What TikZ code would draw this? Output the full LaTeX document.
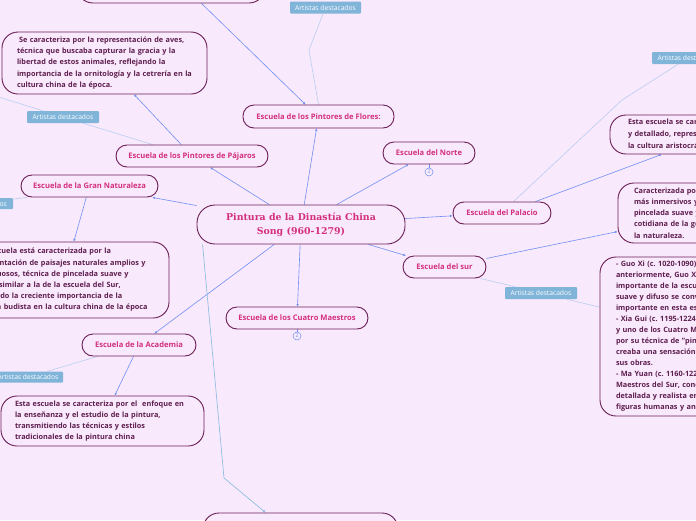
\documentclass[tikz,border=0pt]{standalone}
\usepackage{fontspec}
\setmainfont{Open Sans}
\newfontfamily\titlefont{DejaVu Serif}
\usetikzlibrary{arrows.meta,backgrounds}
\definecolor{bg}{HTML}{F9E9FC}
\definecolor{boxc}{HTML}{6B1E55}
\definecolor{topicc}{HTML}{D32F7E}
\definecolor{descc}{HTML}{5E1E4E}
\definecolor{linkc}{HTML}{6F8FF2}
\definecolor{lightc}{HTML}{B8CDF0}
\definecolor{artc}{HTML}{80B4D9}
\definecolor{bluec}{HTML}{86BADF}
\frenchspacing
\tikzset{
  topic/.style={draw=boxc, line width=0.9pt, rounded corners=11pt, fill=bg, text=topicc,
    font=\fontsize{7.6}{9}\selectfont\bfseries, minimum height=22pt, inner sep=0pt},
  desc/.style={draw=boxc, line width=0.9pt, rounded corners=16pt, fill=bg, text=descc,
    font=\fontsize{7.3}{11.2}\selectfont\bfseries, align=left, inner xsep=15pt, inner ysep=0pt},
  art/.style={fill=artc, text=white, font=\fontsize{6.7}{8}\selectfont, minimum height=12pt,
    inner xsep=3pt, inner ysep=0pt, rounded corners=1pt},
  link/.style={draw=linkc, line width=0.6pt, -{Latex[length=2.5pt,width=2.5pt]}},
  soft/.style={draw=lightc, line width=0.6pt},
  count/.style={circle, draw=linkc, line width=0.5pt, fill=bg, text=linkc, minimum size=8pt,
    inner sep=0pt, font=\fontsize{5}{5}\selectfont},
}
\begin{document}
\begin{tikzpicture}[x=1pt,y=-1pt]
\useasboundingbox (0,0) rectangle (696,520);

% central topic
\node[draw=boxc, line width=0.9pt, rounded corners=18pt, fill=bg, text=topicc,
  font=\titlefont\fontsize{9.4}{14}\selectfont\bfseries, align=center,
  minimum width=208pt, minimum height=39pt, inner sep=0pt] (title) at (301,224.5)
  {Pintura de la Dinastía China\\Song (960-1279)};

% main topics
\node[topic, minimum width=188pt, minimum height=36pt, rounded corners=16pt] (topn) at (171,-15) {};
\node[topic, minimum width=151pt, minimum height=23pt] (flores) at (318.5,116.5) {Escuela de los Pintores de Flores:};
\node[topic, minimum width=152pt] (pajaros) at (192,156) {Escuela de los Pintores de Pájaros};
\node[topic, minimum width=137pt] (natur) at (89.5,186) {Escuela de la Gran Naturaleza};
\node[topic, minimum width=92pt] (norte) at (429,153) {Escuela del Norte};
\node[topic, minimum width=98pt] (palacio) at (502,213) {Escuela del Palacio};
\node[topic, minimum width=83pt] (sur) at (444.5,267) {Escuela del sur};
\node[topic, minimum width=114pt] (academia) at (139,345) {Escuela de la Academia};
\node[topic, minimum width=142pt] (cuatro) at (297,318) {Escuela de los Cuatro Maestros};
\node[topic, minimum width=195pt, minimum height=37pt, rounded corners=16pt] (bottomn) at (300.5,531.5) {};

% counters
\node[count] (norte2) at (429,172) {2};
\node[count] (cuatro2) at (297,336) {2};

% descriptions
\node[desc, text width=175pt, minimum height=62pt] (aves) at (104.5,63)
  {\hspace{2pt}Se caracteriza por la representación de aves,\\
   técnica que buscaba capturar la gracia y la\\
   libertad de estos animales, reflejando la\\
   importancia de la ornitología y la cetrería en la\\
   cultura china de la época.};
\node[desc, text width=182pt, minimum height=76pt] (naturdesc) at (63,280)
  {Esta escuela está caracterizada por la\\
   representación de paisajes naturales amplios y\\
   majestuosos, técnica de pincelada suave y\\
   difusa, similar a la de la escuela del Sur,\\
   reflejando la creciente importancia de la\\
   filosofía budista en la cultura china de la época};
\node[desc, text width=175pt, minimum height=50pt, inner xsep=14pt] (acadesc) at (102.5,421)
  {Esta escuela se caracteriza por el\ \ enfoque en\\
   la enseñanza y el estudio de la pintura,\\
   transmitiendo las técnicas y estilos\\
   tradicionales de la pintura china};
\node[desc, text width=210pt, minimum height=39pt, inner xsep=18pt, font=\fontsize{7.3}{12}\selectfont\bfseries] (paldesc) at (733,134.5)
  {Esta escuela se caracteriza por un estilo refinado\\
   y detallado, representando la vida de la corte y\\
   la cultura aristocrática de la época.};
\node[desc, text width=150pt, minimum height=60pt, inner xsep=16pt] (surdesc) at (709,213)
  {Caracterizada por paisajes\\
   más inmersivos y poéticos,\\
   pincelada suave y la vida\\
   cotidiana de la gente en\\
   la naturaleza.};
\node[desc, text width=210pt, minimum height=159pt, inner xsep=16pt, font=\fontsize{7.3}{11}\selectfont\bfseries] (lista) at (721,336.5)
  {- Guo Xi (c.\ 1020-1090): como se mencionó\\
   anteriormente, Guo Xi fue un pintor\\
   importante de la escuela del Norte. Su estilo\\
   suave y difuso se convirtió en un elemento\\
   importante en esta escuela.\\
   - Xia Gui (c.\ 1195-1224): pintor de la escuela\\
   y uno de los Cuatro Maestros, conocido\\
   por su técnica de "pincelada hacha" que\\
   creaba una sensación de movimiento en\\
   sus obras.\\
   - Ma Yuan (c.\ 1160-1225): uno de los Cuatro\\
   Maestros del Sur, conocido por su técnica\\
   detallada y realista en la representación de\\
   figuras humanas y animales.};

% artist labels
\node[art, minimum width=71pt] (artF) at (325.5,7.5) {Artistas destacados};
\node[art, minimum width=72pt] (artP) at (63,117) {Artistas destacados};
\node[art, minimum width=73pt, minimum height=11pt] (artN) at (-23.5,203.5) {Artistas destacados};
\node[art, minimum width=70pt, minimum height=11pt] (artA) at (28,377) {Artistas destacados};
\node[art, minimum width=72pt] (artPal) at (688,58) {Artistas destacados};
\node[art, minimum width=72pt] (artS) at (541,293) {Artistas destacados};

\coordinate (offP) at (-40,85);

\begin{scope}[on background layer]
  \fill[bg] (0,0) rectangle (696,520);
  % main links
  \draw[link] (title) -- (flores);
  \draw[link] (title) -- (pajaros);
  \draw[link] (title) -- (natur);
  \draw[link] (title) -- (norte);
  \draw[link] (title) -- (palacio);
  \draw[link] (title) -- (sur);
  \draw[link] (title) -- (academia);
  \draw[link] (title) -- (cuatro);
  \draw[link] ([xshift=125pt]topn.south west) -- ([xshift=63pt]flores.north west);
  \draw[link] (pajaros) -- (aves);
  \draw[link] (natur) -- (naturdesc);
  \draw[link] (academia) -- (acadesc);
  \draw[link] ([xshift=-16pt]palacio.north east) -- ([xshift=52pt]paldesc.south west);
  \draw[link] (sur) -- (surdesc);
  \draw[linkc, line width=0.5pt] (norte) -- (norte2);
  \draw[linkc, line width=0.5pt] (cuatro) -- (cuatro2);
  \draw[bluec, line width=0.6pt, -{Latex[length=2.5pt,width=2.5pt]}]
    ([xshift=6pt]title.south west) -- (224,478) -- ([xshift=63pt]bottomn.north west);
  % artist links
  \draw[soft] (flores.north) -- (309,50) -- (artF);
  \draw[soft] ([xshift=37pt]pajaros.north west) -- (artP) -- (offP);
  \draw[soft] ([xshift=6pt]natur.south west) -- (artN);
  \draw[soft] ([xshift=16pt]academia.south west) -- (artA);
  \draw[soft] ([xshift=61pt]palacio.north west) -- (622,100) -- (artPal);
  \draw[soft] ([xshift=-6pt]sur.south east) -- (artS) -- (lista);
\end{scope}
\end{tikzpicture}
\end{document}
